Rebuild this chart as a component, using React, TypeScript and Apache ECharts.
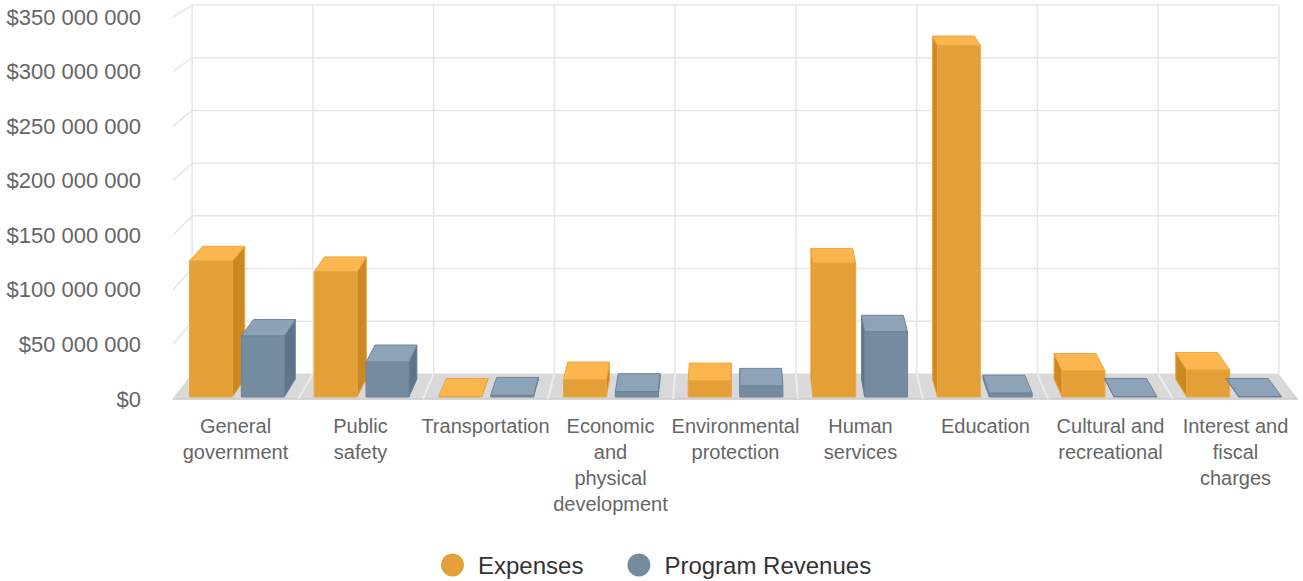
import React, { useEffect, useRef } from 'react';
import * as echarts from 'echarts';

const categories = [
  'General\ngovernment',
  'Public\nsafety',
  'Transportation',
  'Economic\nand\nphysical\ndevelopment',
  'Environmental\nprotection',
  'Human\nservices',
  'Education',
  'Cultural and\nrecreational',
  'Interest and\nfiscal\ncharges',
];
const expenses = [125000000, 115000000, 500000, 16000000, 15000000, 123000000, 323000000, 24000000, 25000000];
const programRevenues = [56000000, 32000000, 1500000, 5000000, 10000000, 60000000, 3500000, 500000, 500000];
const yTicks = [0, 50000000, 100000000, 150000000, 200000000, 250000000, 300000000, 350000000];
const seriesNames = ['Expenses', 'Program Revenues'];

const FONT = '"Liberation Sans", Arial, Helvetica, sans-serif';
const DEPTH = 0.034; // 1 - scale at the back wall
const EYE = 735; // vanishing point distance above floor front edge
const T0 = 0.08;
const T1 = 0.8;

function makeProj(cs: any) {
  const vpx = cs.x + cs.width / 2;
  const vpy = cs.y + cs.height - EYE;
  return {
    vpx,
    proj: (x: number, y: number, t: number) => {
      const s = 1 - DEPTH * t;
      return [vpx + (x - vpx) * s, vpy + (y - vpy) * s];
    },
  };
}

function poly(points: number[][], fill: string, stroke: string) {
  return {
    type: 'polygon',
    shape: { points },
    style: { fill, stroke, lineWidth: 1, lineJoin: 'round' },
  };
}

function makeBarRender(offsetFrac: number, c: { front: string; top: string; side: string; stroke: string }) {
  return (params: any, api: any) => {
    const { vpx, proj } = makeProj(params.coordSys);
    const i = api.value(0);
    const v = api.value(1);
    const base = api.coord([i, 0]);
    const top = api.coord([i, v]);
    const cw = api.size([1, 0])[0];
    const cx = base[0] + cw * offsetFrac;
    const hw = cw * 0.172;
    const x0 = cx - hw;
    const x1 = cx + hw;
    const yb = base[1];
    const yt = top[1];
    const f = [proj(x0, yb, T0), proj(x1, yb, T0), proj(x1, yt, T0), proj(x0, yt, T0)];
    const b = [proj(x0, yb, T1), proj(x1, yb, T1), proj(x1, yt, T1), proj(x0, yt, T1)];
    const children: any[] = [];
    if (x1 < vpx) children.push(poly([f[1], b[1], b[2], f[2]], c.side, c.stroke));
    if (x0 > vpx) children.push(poly([f[0], b[0], b[3], f[3]], c.side, c.stroke));
    children.push(poly([f[3], f[2], b[2], b[3]], c.top, c.stroke));
    children.push(poly(f, c.front, c.stroke));
    return { type: 'group', children };
  };
}

const wallRender = (params: any, api: any) => {
  const cs = params.coordSys;
  const { proj } = makeProj(cs);
  const y = api.coord([0, api.value(1)])[1];
  return {
    type: 'polyline',
    shape: { points: [proj(cs.x, y, 0), proj(cs.x, y, 1), proj(cs.x + cs.width, y, 1)] },
    style: { stroke: '#E6E6E6', lineWidth: 1.5, fill: 'none' },
  };
};

const floorRender = (params: any, api: any) => {
  const cs = params.coordSys;
  const { proj } = makeProj(cs);
  const i = api.value(0);
  const cw = api.size([1, 0])[0];
  const l = api.coord([i, 0])[0] - cw / 2;
  const r = l + cw;
  const y0 = cs.y + cs.height;
  const children: any[] = [
    {
      type: 'polygon',
      shape: { points: [proj(l, y0, 0), proj(r, y0, 0), proj(r, y0, 1), proj(l, y0, 1)] },
      style: { fill: '#D9D9D9', stroke: 'none' },
    },
    {
      type: 'line',
      shape: { x1: proj(l, y0, 0)[0], y1: proj(l, y0, 0)[1], x2: proj(r, y0, 0)[0], y2: proj(r, y0, 0)[1] },
      style: { stroke: '#C9C9C9', lineWidth: 1.5 },
    },
    {
      type: 'line',
      shape: { x1: proj(l, y0, 1)[0], y1: proj(l, y0, 1)[1], x2: proj(l, cs.y, 1)[0], y2: proj(l, cs.y, 1)[1] },
      style: { stroke: '#E6E6E6', lineWidth: 1.5 },
    },
  ];
  if (i > 0) {
    children.push({
      type: 'line',
      shape: { x1: proj(l, y0, 0)[0], y1: proj(l, y0, 0)[1], x2: proj(l, y0, 1)[0], y2: proj(l, y0, 1)[1] },
      style: { stroke: '#EBEBEB', lineWidth: 2 },
    });
  }
  if (i === categories.length - 1) {
    children.push({
      type: 'line',
      shape: { x1: proj(r, y0, 1)[0], y1: proj(r, y0, 1)[1], x2: proj(r, cs.y, 1)[0], y2: proj(r, cs.y, 1)[1] },
      style: { stroke: '#E6E6E6', lineWidth: 1.5 },
    });
  }
  return { type: 'group', children };
};

function fmtMoney(v: number) {
  return '$' + String(v).replace(/\B(?=(\d{3})+(?!\d))/g, ' ');
}

export default function App() {
  const ref = useRef<HTMLDivElement>(null);
  useEffect(() => {
    if (!ref.current) return;
    const chart = echarts.init(ref.current, undefined, { renderer: 'svg' });
    chart.setOption({
      animation: false,
      backgroundColor: '#ffffff',
      grid: { left: 173, right: 5, top: 17, bottom: 182 },
      legend: {
        data: seriesNames,
        top: 553,
        left: 441,
        padding: 0,
        icon: 'circle',
        itemWidth: 23,
        itemHeight: 23,
        itemGap: 44,
        textStyle: { fontSize: 24, lineHeight: 24, color: '#333333', fontFamily: FONT, padding: [0, 0, 0, 9] },
      },
      xAxis: {
        type: 'category',
        data: categories,
        axisLine: { show: false },
        axisTick: { show: false },
        splitLine: { show: false },
        axisLabel: { interval: 0, color: '#666666', fontSize: 20, lineHeight: 26, margin: 14, fontFamily: FONT },
      },
      yAxis: {
        type: 'value',
        min: 0,
        max: 350000000,
        interval: 50000000,
        axisLine: { show: false },
        axisTick: { show: false },
        splitLine: { show: false },
        axisLabel: { formatter: fmtMoney, color: '#666666', fontSize: 22, margin: 32, fontFamily: FONT },
      },
      series: [
        {
          type: 'custom',
          name: 'wall',
          silent: true,
          z: 1,
          renderItem: wallRender,
          data: yTicks.map((v) => [0, v]),
        },
        {
          type: 'custom',
          name: 'floor',
          silent: true,
          z: 2,
          renderItem: floorRender,
          data: categories.map((_, i) => [i, 0]),
        },
        {
          type: 'custom',
          name: seriesNames[0],
          z: 3,
          itemStyle: { color: '#E3A038' },
          renderItem: makeBarRender(-0.208, { front: '#E3A038', top: '#FBB64F', side: '#CA8922', stroke: '#EDA63D' }),
          data: expenses.map((v, i) => [i, v]),
        },
        {
          type: 'custom',
          name: seriesNames[1],
          z: 4,
          itemStyle: { color: '#748BA0' },
          renderItem: makeBarRender(0.208, { front: '#748BA0', top: '#8DA3B8', side: '#5E7489', stroke: '#6E8499' }),
          data: programRevenues.map((v, i) => [i, v]),
        },
      ],
    });
    return () => chart.dispose();
  }, []);
  return <div ref={ref} style={{ position: 'absolute', left: 0, top: 0, width: 1303, height: 581 }} />;
}
